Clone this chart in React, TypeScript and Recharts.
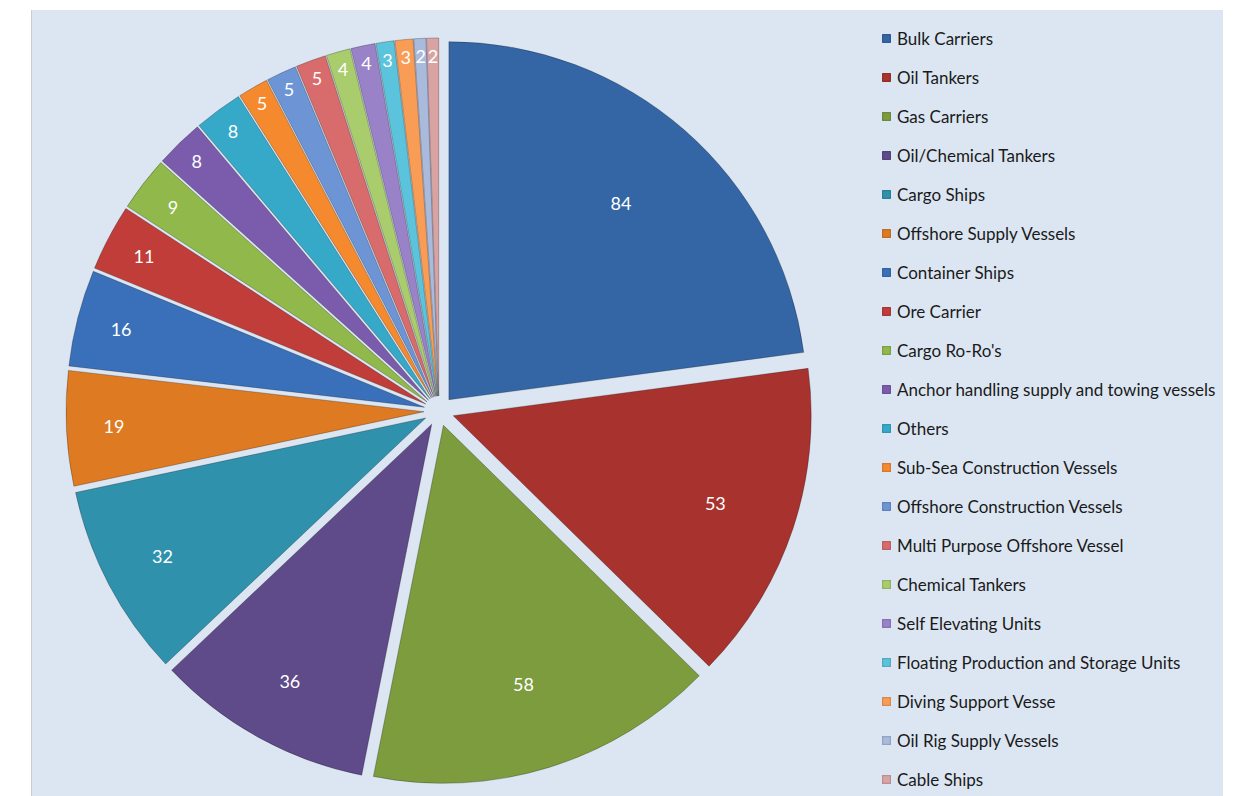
import { PieChart, Pie, Cell, Legend } from "recharts"

const categories = [
  "Bulk Carriers",
  "Oil Tankers",
  "Gas Carriers",
  "Oil/Chemical Tankers",
  "Cargo Ships",
  "Offshore Supply Vessels",
  "Container Ships",
  "Ore Carrier",
  "Cargo Ro-Ro's",
  "Anchor handling supply and towing vessels",
  "Others",
  "Sub-Sea Construction Vessels",
  "Offshore Construction Vessels",
  "Multi Purpose Offshore Vessel",
  "Chemical Tankers",
  "Self Elevating Units",
  "Floating Production and Storage Units",
  "Diving Support Vesse",
  "Oil Rig Supply Vessels",
  "Cable Ships",
]

const counts = [84, 53, 58, 36, 32, 19, 16, 11, 9, 8, 8, 5, 5, 5, 4, 4, 3, 3, 2, 2]

const colors = [
  "#3466a5", "#a8322e", "#7c9c3e", "#5f4a8a", "#2f91ac", "#dd7a22",
  "#3a70b9", "#c03d3a", "#90b84a", "#7b5cac", "#36a9c8", "#f5892e",
  "#6d95d6", "#d86b6b", "#a9cc6c", "#9a82c8", "#5cc3dc", "#f99c56",
  "#a9badd", "#d9a3a3",
]

const data = categories.map((name, i) => ({ name, value: counts[i] }))
const total = counts.reduce((a, b) => a + b, 0)

const CX = 439
const CY = 411
const R = 358
const EXPLODE = 15
const RAD = Math.PI / 180

// clockwise angle (from 12 o'clock) through the middle of each slice
const midAngles = counts.map((v, i) => {
  const before = counts.slice(0, i).reduce((a, b) => a + b, 0)
  return ((before + v / 2) / total) * 2 * Math.PI
})

// Excel "best fit" puts small slices' labels further out
const labelFactor = (v: number) => {
  if (v <= 5) return 0.95
  if (v <= 8) return 0.93
  return Math.max(0.73, 0.92 - 0.0028 * v)
}

const font = "Lato, 'Open Sans', sans-serif"

function LegendList() {
  return (
    <div style={{ fontFamily: font }}>
      {categories.map((name, i) => (
        <div key={name} style={{ height: 39, display: "flex", alignItems: "center" }}>
          <span
            style={{
              width: 9,
              height: 9,
              marginRight: 6,
              background: colors[i],
              boxShadow: "inset 0 0 2px rgba(0,0,0,0.45)",
              borderRadius: 1,
            }}
          />
          <span style={{ fontSize: 17, color: "#1a1a1a", whiteSpace: "nowrap" }}>{name}</span>
        </div>
      ))}
    </div>
  )
}

export default function App() {
  return (
    <div style={{ position: "absolute", left: 0, top: 0, width: 1233, height: 796, background: "#fff" }}>
      <div
        style={{
          position: "absolute",
          left: 31,
          top: 10,
          width: 1191,
          height: 786,
          background: "#dce6f2",
          borderLeft: "1px solid #c9cdd3",
        }}
      />
      <div style={{ position: "absolute", left: 0, top: 0 }}>
        <PieChart width={1233} height={796} margin={{ top: 0, right: 0, bottom: 0, left: 0 }}>
          {data.map((_, k) => (
            <Pie
              key={k}
              data={data}
              dataKey="value"
              nameKey="name"
              cx={CX + EXPLODE * Math.sin(midAngles[k])}
              cy={CY - EXPLODE * Math.cos(midAngles[k])}
              outerRadius={R}
              startAngle={90}
              endAngle={-270}
              isAnimationActive={false}
              labelLine={false}
              legendType="none"
              label={(p: any) => {
                if (p.index !== k) return null
                const r = p.outerRadius * labelFactor(p.value)
                const x = p.cx + r * Math.cos(-p.midAngle * RAD)
                const y = p.cy + r * Math.sin(-p.midAngle * RAD)
                return (
                  <text
                    x={x}
                    y={y}
                    fill="#ffffff"
                    fontSize={18}
                    fontFamily={font}
                    textAnchor="middle"
                    dominantBaseline="central"
                  >
                    {p.value}
                  </text>
                )
              }}
            >
              {data.map((_, i) => (
                <Cell
                  key={i}
                  fill={i === k ? colors[i] : "none"}
                  stroke={i === k ? "rgba(0,0,0,0.25)" : "none"}
                  strokeWidth={1}
                />
              ))}
            </Pie>
          ))}
          <Legend
            content={() => <LegendList />}
            layout="vertical"
            verticalAlign="top"
            align="right"
            wrapperStyle={{ left: 882, top: 19, width: 345 }}
          />
        </PieChart>
      </div>
    </div>
  )
}
